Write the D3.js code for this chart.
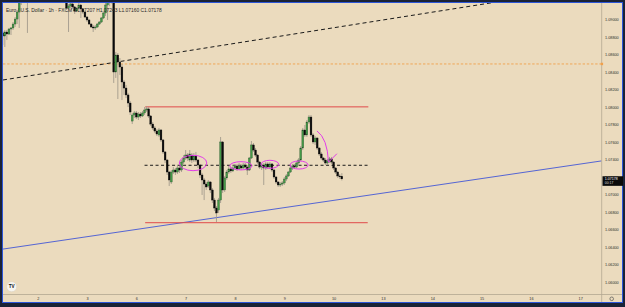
<!DOCTYPE html>
<html><head><meta charset="utf-8">
<script src="https://cdn.jsdelivr.net/npm/d3@7"></script>
<style>html,body{margin:0;padding:0;background:#1b2236;overflow:hidden;} svg{display:block;font-family:"Liberation Sans",Arial,sans-serif;}</style>
</head><body><svg id="c" width="625" height="307"></svg>
<script>
// ---- data (EUR/USD 1h) ----
const firstBar = -18; // bar index of first candle (0 = day "2" 00:00)
const opens = [
1.08821,1.08844,1.08809,1.08855,1.08832,1.08889,1.08901,1.08946,1.09003,1.09083,
1.09198,1.09335,1.09380,1.09320,1.09520,1.09780,1.09880,1.09850,1.09820,1.09980,
1.10180,1.10100,1.10000,1.09950,1.09900,1.09920,1.09850,1.09700,1.09600,1.09680,
1.09720,1.09600,1.09400,1.09129,1.09152,1.09175,1.09141,1.09095,1.09129,1.09163,
1.09118,1.09083,1.09026,1.08992,1.08946,1.08912,1.08901,1.08912,1.08946,1.08969,
1.09015,1.09072,1.09163,1.09255,1.09280,1.09220,1.08398,1.08592,1.08512,1.08455,
1.08284,1.08215,1.08136,1.08044,1.07838,1.07907,1.07930,1.07884,1.07918,1.07896,
1.07930,1.07964,1.07976,1.07896,1.07804,1.07759,1.07724,1.07679,1.07736,1.07622,
1.07485,1.07393,1.07256,1.07142,1.07256,1.07279,1.07256,1.07302,1.07279,1.07370,
1.07416,1.07450,1.07393,1.07450,1.07393,1.07439,1.07393,1.07336,1.07222,1.07165,
1.07119,1.07096,1.07142,1.07051,1.06936,1.06845,1.06822,1.06936,1.07599,1.07051,
1.07188,1.07256,1.07291,1.07268,1.07302,1.07325,1.07291,1.07325,1.07302,1.07336,
1.07313,1.07279,1.07416,1.07565,1.07507,1.07450,1.07370,1.07313,1.07336,1.07302,
1.07348,1.07313,1.07348,1.07279,1.07199,1.07142,1.07108,1.07119,1.07131,1.07176,
1.07211,1.07256,1.07302,1.07325,1.07313,1.07359,1.07393,1.07530,1.07736,1.07679,
1.07827,1.07884,1.07679,1.07599,1.07644,1.07530,1.07462,1.07416,1.07393,1.07359,
1.07382,1.07405,1.07370,1.07302,1.07256,1.07211,1.07207];
const highs = [
1.08866,1.08866,1.08878,1.08878,1.08901,1.08912,1.08969,1.09026,1.09106,1.09255,
1.09400,1.09420,1.09450,1.09600,1.09850,1.09920,1.09950,1.09900,1.10050,1.10250,
1.10330,1.10150,1.10080,1.10000,1.09980,1.10000,1.09900,1.09780,1.09750,1.09800,
1.09850,1.09900,1.09480,1.09175,1.09198,1.09198,1.09152,1.09141,1.09186,1.09175,
1.09129,1.09095,1.09038,1.09003,1.08958,1.08935,1.08935,1.08958,1.08980,1.09026,
1.09083,1.09186,1.09300,1.09350,1.09350,1.09320,1.08627,1.08615,1.08558,1.08489,
1.08307,1.08250,1.08160,1.08067,1.07930,1.07953,1.07953,1.07941,1.07941,1.07953,
1.07998,1.08010,1.07998,1.07907,1.07827,1.07781,1.07747,1.07759,1.07747,1.07633,
1.07496,1.07405,1.07268,1.07279,1.07313,1.07302,1.07325,1.07325,1.07393,1.07450,
1.07507,1.07473,1.07507,1.07473,1.07473,1.07485,1.07405,1.07348,1.07245,1.07188,
1.07142,1.07165,1.07153,1.07073,1.06960,1.06868,1.06960,1.07656,1.07610,1.07211,
1.07279,1.07325,1.07313,1.07336,1.07348,1.07348,1.07359,1.07348,1.07359,1.07359,
1.07336,1.07428,1.07610,1.07587,1.07530,1.07462,1.07382,1.07359,1.07359,1.07370,
1.07370,1.07370,1.07359,1.07291,1.07211,1.07153,1.07142,1.07153,1.07199,1.07233,
1.07268,1.07325,1.07348,1.07348,1.07382,1.07416,1.07553,1.07759,1.07793,1.07850,
1.07907,1.07907,1.07701,1.07667,1.07656,1.07542,1.07485,1.07428,1.07416,1.07405,
1.07428,1.07428,1.07382,1.07313,1.07268,1.07233,1.07243];
const lows = [
1.08798,1.08707,1.08684,1.08764,1.08821,1.08821,1.08878,1.08912,1.08946,1.08901,
1.09163,1.09280,1.09300,1.08844,1.09450,1.09650,1.09800,1.09750,1.09780,1.09920,
1.10050,1.09950,1.09900,1.09850,1.09820,1.09800,1.09650,1.09550,1.09500,1.09600,
1.09550,1.09300,1.09106,1.08855,1.09129,1.09118,1.09061,1.09083,1.09118,1.09015,
1.09061,1.09015,1.08969,1.08935,1.08901,1.08855,1.08878,1.08901,1.08935,1.08958,
1.09003,1.09038,1.08992,1.09150,1.09180,1.08273,1.08330,1.08090,1.08364,1.08078,
1.08136,1.08101,1.07998,1.07907,1.07804,1.07873,1.07861,1.07850,1.07873,1.07884,
1.07907,1.07941,1.07873,1.07781,1.07736,1.07701,1.07667,1.07656,1.07599,1.07462,
1.07359,1.07222,1.07096,1.07119,1.07233,1.07222,1.07233,1.07245,1.07256,1.07348,
1.07393,1.07382,1.07370,1.07359,1.07370,1.07370,1.07302,1.07188,1.06994,1.06936,
1.07051,1.07073,1.07016,1.06902,1.06811,1.06685,1.06788,1.06902,1.07016,1.07028,
1.07165,1.07233,1.07245,1.07256,1.07279,1.07268,1.07279,1.07279,1.07291,1.07279,
1.07222,1.07268,1.07405,1.07485,1.07428,1.07348,1.07291,1.07279,1.07108,1.07279,
1.07291,1.07291,1.07256,1.07176,1.07119,1.07085,1.07085,1.07096,1.07108,1.07153,
1.07199,1.07245,1.07279,1.07291,1.07302,1.07336,1.07382,1.07507,1.07656,1.07656,
1.07804,1.07656,1.07576,1.07565,1.07507,1.07439,1.07393,1.07370,1.07336,1.07336,
1.07359,1.07348,1.07279,1.07233,1.07188,1.07176,1.07160];
const closes = [
1.08844,1.08809,1.08855,1.08832,1.08889,1.08901,1.08946,1.09003,1.09083,1.09198,
1.09335,1.09380,1.09320,1.09520,1.09780,1.09880,1.09850,1.09820,1.09980,1.10180,
1.10100,1.10000,1.09950,1.09900,1.09920,1.09850,1.09700,1.09600,1.09680,1.09720,
1.09600,1.09400,1.09129,1.09152,1.09175,1.09141,1.09095,1.09129,1.09163,1.09118,
1.09083,1.09026,1.08992,1.08946,1.08912,1.08901,1.08912,1.08946,1.08969,1.09015,
1.09072,1.09163,1.09255,1.09280,1.09220,1.08398,1.08592,1.08512,1.08455,1.08284,
1.08215,1.08136,1.08044,1.07941,1.07907,1.07930,1.07884,1.07918,1.07896,1.07930,
1.07964,1.07976,1.07896,1.07804,1.07759,1.07724,1.07690,1.07736,1.07622,1.07485,
1.07393,1.07256,1.07165,1.07256,1.07279,1.07256,1.07302,1.07279,1.07370,1.07416,
1.07450,1.07416,1.07462,1.07393,1.07439,1.07393,1.07336,1.07222,1.07165,1.07119,
1.07085,1.07142,1.07051,1.06936,1.06845,1.06788,1.06936,1.07599,1.07051,1.07188,
1.07256,1.07291,1.07268,1.07302,1.07325,1.07291,1.07325,1.07302,1.07336,1.07313,
1.07279,1.07416,1.07565,1.07507,1.07450,1.07370,1.07313,1.07336,1.07302,1.07348,
1.07313,1.07348,1.07279,1.07199,1.07142,1.07108,1.07119,1.07131,1.07176,1.07211,
1.07256,1.07302,1.07325,1.07313,1.07359,1.07393,1.07530,1.07736,1.07679,1.07827,
1.07884,1.07679,1.07599,1.07644,1.07530,1.07462,1.07416,1.07393,1.07359,1.07382,
1.07405,1.07370,1.07302,1.07256,1.07211,1.07207,1.07178];

const dayLabels = ["2","3","6","7","8","9","10","13","14","15","16","17"];
const dayStartBars = [0,24,48,72,96,120,144,168,192,216,240,264];
const priceTicks = [1.06,1.062,1.064,1.066,1.068,1.07,1.072,1.074,1.076,1.078,1.08,1.082,1.084,1.086,1.088,1.09];
const headerTitle = "Euro / U.S. Dollar · 1h · FXCM";
const headerOHLC = "O1.07207 H1.07243 L1.07160 C1.07178";
const lastPrice = 1.07178;
const countdown = "00:17";

// drawings (bar index, price)
const resistance = {i1:52.3, i2:160.9, p:1.0800};
const support = {i1:52.3, i2:160.6, p:1.06677};
const midLine = {i1:52.0, i2:160.9, p:1.07333};
const orangeLevel = 1.0849;
const blackTrend = {i1:-16.9, p1:1.08307, i2:223.5, p2:1.09198};
const blueTrend = {i1:-19.5, p1:1.06367, i2:275, p2:1.07385};
const ellipses = [
  {i:75.6, p:1.07359, ri:6.7, rp:0.00088},
  {i:98.9, p:1.07327, ri:5.4, rp:0.00047},
  {i:113.0, p:1.07344, ri:4.3, rp:0.00046},
  {i:127.2, p:1.07336, ri:4.4, rp:0.00046}
];
const arrowPts = {start:[135.9,1.07725], ctrl:[141.0,1.07640], end:[141.5,1.07368], tick:[145.6,1.07465]};

// ---- scales ----
const W = 625, H = 307;
const plot = {x0:3, x1:601.5, y0:3, y1:294.5};
const x = d3.scaleLinear().domain([0, 264]).range([37.7, 580.2]);
const y = d3.scaleLinear().domain([1.06, 1.09]).range([282, 19.3]);

const svg = d3.select("#c");
// frame
svg.append("rect").attr("x",0).attr("y",0).attr("width",W).attr("height",H).attr("fill","#1b2236");
svg.append("rect").attr("x",2.5).attr("y",2.5).attr("width",620).attr("height",300).attr("fill","#ebdbbe").attr("stroke","#2c55d8").attr("stroke-width",1);

const defs = svg.append("defs");
defs.append("clipPath").attr("id","pc").append("rect")
  .attr("x",plot.x0).attr("y",plot.y0).attr("width",plot.x1-plot.x0).attr("height",plot.y1-plot.y0);

const g = svg.append("g").attr("clip-path","url(#pc)");

// orange dotted level
g.append("line").attr("x1",plot.x0).attr("x2",plot.x1).attr("y1",y(orangeLevel)).attr("y2",y(orangeLevel))
  .attr("stroke","#f0a04b").attr("stroke-width",0.9).attr("stroke-dasharray","2.4,1.8");

// black dashed trend
g.append("line").attr("x1",x(blackTrend.i1)).attr("y1",y(blackTrend.p1)).attr("x2",x(blackTrend.i2)).attr("y2",y(blackTrend.p2))
  .attr("stroke","#1a1a1a").attr("stroke-width",1).attr("stroke-dasharray","4,3");

// blue trend
g.append("line").attr("x1",x(blueTrend.i1)).attr("y1",y(blueTrend.p1)).attr("x2",x(blueTrend.i2)).attr("y2",y(blueTrend.p2))
  .attr("stroke","#4357d6").attr("stroke-width",0.9);

// horizontal levels
[resistance, support].forEach(l => {
  g.append("line").attr("x1",x(l.i1)).attr("x2",x(l.i2)).attr("y1",y(l.p)).attr("y2",y(l.p))
    .attr("stroke","#e04a4a").attr("stroke-width",1);
});
g.append("line").attr("x1",x(midLine.i1)).attr("x2",x(midLine.i2)).attr("y1",y(midLine.p)).attr("y2",y(midLine.p))
  .attr("stroke","#1a1a1a").attr("stroke-width",1).attr("stroke-dasharray","3,2.5");

// candles
const bars = opens.map((o,k)=>({i:firstBar+k, o, h:highs[k], l:lows[k], c:closes[k]}));
const bw = 1.8;
const cg = g.append("g");
cg.selectAll("line.wick").data(bars).join("line").attr("class","wick")
  .attr("x1",d=>x(d.i)).attr("x2",d=>x(d.i)).attr("y1",d=>y(d.h)).attr("y2",d=>y(d.l))
  .attr("stroke","#a39b8c").attr("stroke-width",0.9);
cg.selectAll("rect.body").data(bars).join("rect").attr("class","body")
  .attr("x",d=>x(d.i)-bw/2).attr("width",bw)
  .attr("y",d=>y(Math.max(d.o,d.c)))
  .attr("height",d=>Math.max(0.9, Math.abs(y(d.o)-y(d.c))))
  .attr("fill",d=>d.c>=d.o ? "#449a47" : "#0a0a0a")
  .attr("stroke",d=>d.c>=d.o ? "#24502a" : "#0a0a0a")
  .attr("stroke-width",0.35);

// magenta annotations
const mg = g.append("g").attr("fill","none").attr("stroke","#e23ce8").attr("stroke-width",1);
mg.selectAll("ellipse").data(ellipses).join("ellipse")
  .attr("cx",d=>x(d.i)).attr("cy",d=>y(d.p))
  .attr("rx",d=>x(d.i+d.ri)-x(d.i)).attr("ry",d=>y(d.p-d.rp)-y(d.p));
const ap = d3.path();
ap.moveTo(x(arrowPts.start[0]), y(arrowPts.start[1]));
ap.quadraticCurveTo(x(arrowPts.ctrl[0]), y(arrowPts.ctrl[1]), x(arrowPts.end[0]), y(arrowPts.end[1]));
ap.lineTo(x(arrowPts.tick[0]), y(arrowPts.tick[1]));
mg.append("path").attr("d", ap.toString());

// header legend
svg.append("text").attr("x",6).attr("y",11.6).attr("font-size",4.9).attr("fill","#262626")
  .text(headerTitle + "  " + headerOHLC);

// separators
svg.append("line").attr("x1",plot.x1+0.2).attr("x2",plot.x1+0.2).attr("y1",3).attr("y2",302).attr("stroke","#b3a791").attr("stroke-width",0.8);
svg.append("line").attr("x1",3).attr("x2",622).attr("y1",plot.y1).attr("y2",plot.y1).attr("stroke","#b3a791").attr("stroke-width",0.8);

// price axis
const ya = svg.append("g").attr("transform",`translate(${plot.x1+2},0)`)
  .call(d3.axisRight(y).tickValues(priceTicks).tickFormat(d3.format(".5f")).tickSize(0).tickPadding(1.5));
ya.select(".domain").remove();
ya.selectAll("text").attr("font-size",3.8).attr("fill","#2e2e2e").attr("font-family","Liberation Sans, Arial, sans-serif");

// time axis
const xa = svg.append("g").attr("transform",`translate(0,${plot.y1+2.6})`)
  .call(d3.axisBottom(x).tickValues(dayStartBars).tickFormat((d,k)=>dayLabels[k]).tickSize(0).tickPadding(0));
xa.select(".domain").remove();
xa.selectAll("text").attr("font-size",3.8).attr("fill","#2e2e2e").attr("font-family","Liberation Sans, Arial, sans-serif");

// orange marker on axis
svg.append("rect").attr("x",plot.x1-0.8).attr("y",y(orangeLevel)-1.2).attr("width",2.4).attr("height",2.4).attr("fill","#f0a04b");

// last price tag
const ty = y(lastPrice);
svg.append("rect").attr("x",plot.x1+1).attr("y",ty-2.6).attr("width",20.5).attr("height",9.6).attr("fill","#0b0b0b");
svg.append("text").attr("x",plot.x1+3.3).attr("y",ty+1.3).attr("font-size",3.6).attr("fill","#fff").text(d3.format(".5f")(lastPrice));
svg.append("text").attr("x",plot.x1+3.3).attr("y",ty+5.6).attr("font-size",3.4).attr("fill","#ddd").text(countdown);

// TV logo
svg.append("circle").attr("cx",11.7).attr("cy",286.7).attr("r",5).attr("fill","#f7f5f0").attr("stroke","#d8d0c0").attr("stroke-width",0.5);
svg.append("text").attr("x",11.7).attr("y",288.4).attr("text-anchor","middle").attr("font-size",4.6).attr("font-weight","bold").attr("fill","#111").text("TV");

// gear icon
svg.append("circle").attr("cx",611.7).attr("cy",298.8).attr("r",1.8).attr("fill","none").attr("stroke","#555").attr("stroke-width",0.7);
</script>
</body></html>
